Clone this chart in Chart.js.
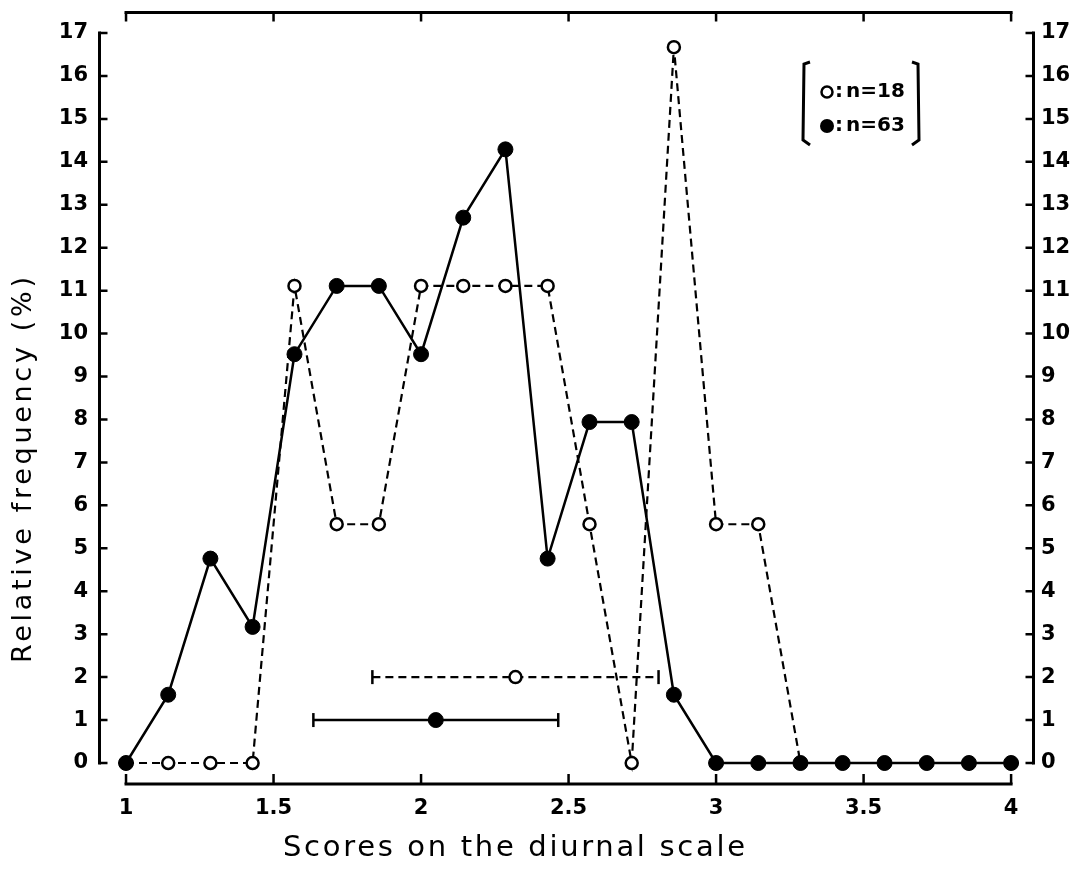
<!DOCTYPE html>
<html>
<head>
<meta charset="utf-8">
<script src="https://cdn.jsdelivr.net/npm/chart.js@4/dist/chart.umd.min.js"></script>
<style>
html,body{margin:0;padding:0;background:#fff;}
#wrap{width:1073px;height:870px;position:relative;}
</style>
</head>
<body>
<div id="wrap"><canvas id="c" width="1073" height="870"></canvas></div>
<script>
// ---- data ----
const scores = [1.000, 1.143, 1.286, 1.429, 1.571, 1.714, 1.857, 2.000, 2.143, 2.286, 2.429,
                2.571, 2.714, 2.857, 3.000, 3.143, 3.286, 3.429, 3.571, 3.714, 3.857, 4.000];
const freqN63 = [0, 1.59, 4.76, 3.17, 9.52, 11.11, 11.11, 9.52, 12.70, 14.29, 4.76,
                 7.94, 7.94, 1.59, 0, 0, 0, 0, 0, 0, 0, 0];
const freqN18 = [0, 0, 0, 0, 11.11, 5.56, 5.56, 11.11, 11.11, 11.11, 11.11,
                 5.56, 0, 16.67, 5.56, 5.56, 0, 0, 0, 0, 0, 0];
// mean ± sd bars: [low, mean, high] and their level
const barN18 = [1.835, 2.32, 2.805];
const barN18Level = 2;
const barN63 = [1.635, 2.05, 2.465];
const barN63Level = 1;
const xTicks = [1, 1.5, 2, 2.5, 3, 3.5, 4];
const yTicks = [0,1,2,3,4,5,6,7,8,9,10,11,12,13,14,15,16,17];
const legendLabels = ['n=18', 'n=63'];
const xTitle = 'Scores on the diurnal scale';
const yTitle = 'Relative frequency (%)';

const pts = (xs, ys) => xs.map((x, i) => ({x: x, y: ys[i]}));
const barPts = (b, lvl) => b.map(x => ({x: x, y: lvl}));

const TICK_FONT = {family: 'DejaVu Sans', size: 21, weight: 'bold'};

const framePlugin = {
  id: 'frame',
  beforeDatasetsDraw(chart) {
    const {ctx, chartArea: a, scales} = chart;
    const xs = scales.x, ys = scales.y;
    ctx.save();
    ctx.strokeStyle = '#000';
    ctx.lineWidth = 3;
    ctx.lineCap = 'butt';
    const y0 = ys.getPixelForValue(yTicks[0]);
    const y17 = ys.getPixelForValue(yTicks[yTicks.length - 1]);
    const x1 = xs.getPixelForValue(xTicks[0]);
    const x4 = xs.getPixelForValue(xTicks[xTicks.length - 1]);
    const L = a.left + 1.5, R = a.right - 1.5, T = a.top + 0.5, B = a.bottom;
    ctx.beginPath();
    ctx.moveTo(L, y17 - 1.5); ctx.lineTo(L, y0 + 1.5);
    ctx.moveTo(R, y17 - 1.5); ctx.lineTo(R, y0 + 1.5);
    ctx.moveTo(x1 - 1.5, B); ctx.lineTo(x4 + 1.5, B);
    ctx.moveTo(x1 - 1.5, T); ctx.lineTo(x4 + 1.5, T);
    ctx.stroke();
    ctx.lineWidth = 2.5;
    ctx.beginPath();
    yTicks.forEach(v => {
      const p = ys.getPixelForValue(v);
      ctx.moveTo(L, p); ctx.lineTo(L + 8, p);
      ctx.moveTo(R, p); ctx.lineTo(R - 8, p);
    });
    xTicks.forEach(v => {
      const p = xs.getPixelForValue(v);
      ctx.moveTo(p, B); ctx.lineTo(p, B - 10);
      ctx.moveTo(p, T); ctx.lineTo(p, T + 9);
    });
    ctx.stroke();
    ctx.restore();
  },
  afterDraw(chart) {
    const {ctx} = chart;
    ctx.save();
    ctx.fillStyle = '#000';
    ctx.textBaseline = 'middle';
    ctx.textAlign = 'left';
    function spaced(text, cx, cy, target, font, rot) {
      ctx.save();
      ctx.font = font;
      ctx.translate(cx, cy);
      if (rot) ctx.rotate(rot);
      let w = ctx.measureText(text).width;
      const n = text.length;
      let ls = (target - w) / (n - 1);
      let ok = false;
      if ('letterSpacing' in ctx) {
        ctx.letterSpacing = ls + 'px';
        const w2 = ctx.measureText(text).width;
        if (Math.abs(w2 - w) > 1 || Math.abs(ls) < 0.5) { ok = true; w = w2 - ls; }
      }
      if (!ok) {
        ctx.scale(target / w, 1);
      }
      ctx.fillText(text, -w / 2, 0);
      ctx.restore();
    }
    spaced(xTitle, 514, 848, 462, '29px "DejaVu Sans"', 0);
    spaced(yTitle, 24, 470, 386, '27px "DejaVu Sans"', -Math.PI / 2);

    // legend with brackets
    ctx.strokeStyle = '#000';
    ctx.lineWidth = 3;
    ctx.beginPath();
    ctx.moveTo(810, 62); ctx.lineTo(804, 64); ctx.lineTo(803, 140); ctx.lineTo(810, 145);
    ctx.moveTo(912, 62); ctx.lineTo(918, 64); ctx.lineTo(919, 140); ctx.lineTo(912, 145);
    ctx.stroke();
    ctx.lineWidth = 2.5;
    ctx.beginPath(); ctx.arc(827, 92, 5.5, 0, Math.PI * 2);
    ctx.fillStyle = '#fff'; ctx.fill(); ctx.stroke();
    ctx.beginPath(); ctx.arc(827, 126, 7, 0, Math.PI * 2);
    ctx.fillStyle = '#000'; ctx.fill();
    ctx.fillStyle = '#000';
    ctx.font = 'bold 20px "DejaVu Sans"';
    ctx.fillText(':', 835, 92);
    ctx.fillText(':', 835, 126);
    ctx.fillText(legendLabels[0], 846, 92);
    ctx.fillText(legendLabels[1], 846, 126);
    ctx.restore();
  }
};

function fixY(w) {
  return s => { s.width = w; s.paddingTop = 0; s.paddingBottom = 0; };
}

new Chart(document.getElementById('c'), {
  type: 'line',
  data: {
    datasets: [
      {
        label: 'n=63',
        data: pts(scores, freqN63),
        borderColor: '#000', borderWidth: 2.5,
        pointRadius: 7.5, pointHoverRadius: 7.5,
        pointBackgroundColor: '#000', pointBorderColor: '#000', pointBorderWidth: 1,
        order: 1
      },
      {
        label: 'n=18',
        data: pts(scores, freqN18),
        borderColor: '#000', borderWidth: 2.2, borderDash: [8, 5],
        pointRadius: 6, pointHoverRadius: 6,
        pointBackgroundColor: '#fff', pointBorderColor: '#000', pointBorderWidth: 2.5,
        order: 2
      },
      {
        label: 'sd n=18',
        data: barPts(barN18, barN18Level),
        borderColor: '#000', borderWidth: 2.2, borderDash: [8, 5],
        pointStyle: ['line', 'circle', 'line'],
        pointRotation: [90, 0, 90],
        pointRadius: [7, 6, 7],
        pointBackgroundColor: '#fff', pointBorderColor: '#000', pointBorderWidth: [2.5, 2.5, 2.5],
        order: 3
      },
      {
        label: 'sd n=63',
        data: barPts(barN63, barN63Level),
        borderColor: '#000', borderWidth: 2.5,
        pointStyle: ['line', 'circle', 'line'],
        pointRotation: [90, 0, 90],
        pointRadius: [7, 7.5, 7],
        pointBackgroundColor: '#000', pointBorderColor: '#000', pointBorderWidth: [2.5, 1, 2.5],
        order: 3
      }
    ]
  },
  options: {
    responsive: false,
    animation: false,
    devicePixelRatio: 1,
    layout: {padding: {top: 12, left: 0, right: 0, bottom: 0}},
    plugins: {legend: {display: false}, tooltip: {enabled: false}},
    scales: {
      x: {
        type: 'linear', position: 'bottom',
        min: 0.905, max: 4.081,
        afterFit: s => { s.height = 86; s.paddingLeft = 0; s.paddingRight = 0; },
        afterBuildTicks: s => { s.ticks = xTicks.map(v => ({value: v})); },
        ticks: {font: TICK_FONT, color: '#000', padding: 12, maxRotation: 0,
                callback: v => String(v)},
        grid: {display: false, drawTicks: false},
        border: {display: false}
      },
      y: {
        type: 'linear', position: 'left',
        min: -0.489, max: 17.489,
        afterFit: fixY(98),
        afterBuildTicks: s => { s.ticks = yTicks.map(v => ({value: v})); },
        ticks: {font: TICK_FONT, color: '#000', padding: 10, callback: v => String(v)},
        grid: {display: false, drawTicks: false},
        border: {display: false}
      },
      y2: {
        type: 'linear', position: 'right', display: true,
        min: -0.489, max: 17.489,
        afterFit: fixY(38),
        afterBuildTicks: s => { s.ticks = yTicks.map(v => ({value: v})); },
        ticks: {font: TICK_FONT, color: '#000', padding: 6, callback: v => String(v)},
        grid: {display: false, drawTicks: false},
        border: {display: false}
      }
    }
  },
  plugins: [framePlugin]
});
</script>
</body>
</html>
